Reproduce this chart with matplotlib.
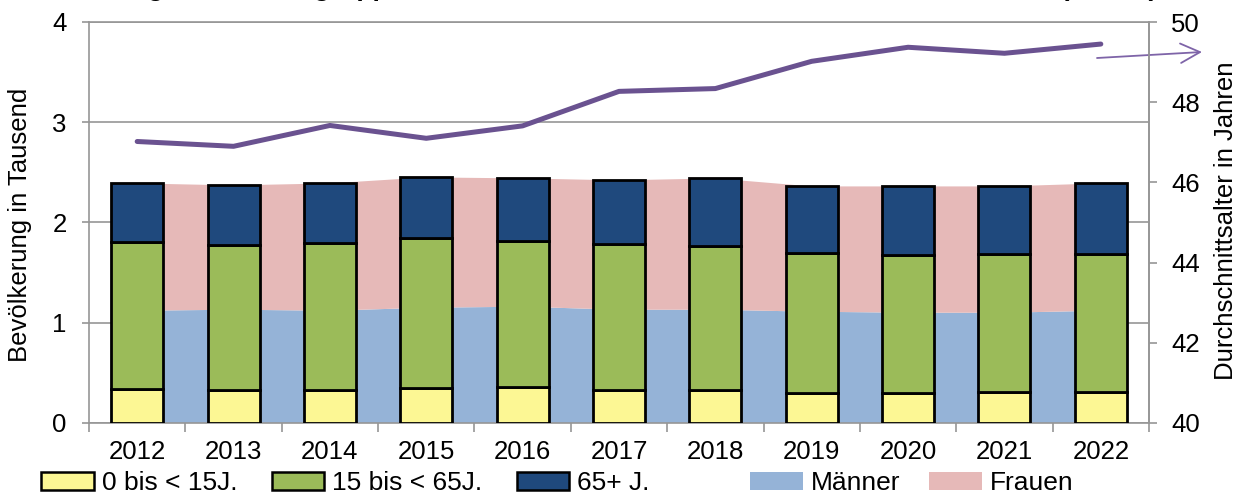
import numpy as np
import matplotlib
matplotlib.use("Agg")
import matplotlib.pyplot as plt
from matplotlib.patches import Patch
from matplotlib.ticker import MultipleLocator, FixedLocator

plt.rcParams['font.family'] = ['Liberation Sans', 'DejaVu Sans']

# Bevölkerung (Tausend) nach Altersgruppen und Geschlecht, Durchschnittsalter rechts
jahre = ['2012', '2013', '2014', '2015', '2016', '2017', '2018', '2019', '2020', '2021', '2022']
unter15 = [0.34, 0.33, 0.33, 0.35, 0.36, 0.33, 0.33, 0.30, 0.30, 0.31, 0.31]
von15bis65 = [1.47, 1.45, 1.47, 1.50, 1.46, 1.46, 1.44, 1.40, 1.38, 1.38, 1.38]
ab65 = [0.58, 0.59, 0.59, 0.60, 0.62, 0.63, 0.67, 0.66, 0.68, 0.67, 0.70]
maenner = [1.12, 1.13, 1.12, 1.15, 1.16, 1.13, 1.13, 1.11, 1.10, 1.10, 1.12]
frauen = [1.27, 1.24, 1.27, 1.30, 1.28, 1.29, 1.31, 1.25, 1.26, 1.26, 1.27]
durchschnittsalter = [47.02, 46.90, 47.42, 47.10, 47.41, 48.27, 48.34, 49.02, 49.37, 49.22, 49.45]

c_jung = '#FCF794'
c_mittel = '#9BBB59'
c_alt = '#1F497D'
c_maenner = '#95B3D7'
c_frauen = '#E6B9B8'
c_linie = '#6A5290'
c_grau = '#969696'
fs = 18.5

W, H = 1242, 499
fig = plt.figure(figsize=(W / 100, H / 100), dpi=100)
ax = fig.add_axes([89 / W, 1 - 423 / H, (1149 - 89) / W, (423 - 22) / H])

x = np.arange(len(jahre))

# Geschlecht als gestapelte Fläche hinter den Säulen
ax.stackplot(x, maenner, frauen, colors=[c_maenner, c_frauen], zorder=1)

# Altersgruppen als gestapelte Säulen
b1 = np.array(unter15)
b2 = b1 + np.array(von15bis65)
ax.bar(x, unter15, width=0.54, color=c_jung, edgecolor='black', lw=2, zorder=3)
ax.bar(x, von15bis65, width=0.54, bottom=b1, color=c_mittel, edgecolor='black', lw=2, zorder=3)
ax.bar(x, ab65, width=0.54, bottom=b2, color=c_alt, edgecolor='black', lw=2, zorder=3)

ax.set_xlim(-0.5, len(jahre) - 0.5)
ax.set_ylim(0, 4)
ax.yaxis.set_major_locator(MultipleLocator(1))
ax.set_xticks(x)
ax.set_xticklabels(jahre)
ax.xaxis.set_minor_locator(FixedLocator(np.arange(-0.5, len(jahre), 1.0)))
ax.tick_params(axis='x', which='major', length=0, pad=12, labelsize=fs)
ax.tick_params(axis='x', which='minor', length=6.5, width=1.2, color=c_grau)
ax.tick_params(axis='y', length=5, width=1.2, color=c_grau, pad=11, labelsize=fs)
ax.grid(axis='y', color=c_grau, lw=1.2)
ax.set_axisbelow(True)
for s in ax.spines.values():
    s.set_color(c_grau)
    s.set_linewidth(1.2)
    s.set_zorder(2.5)

# Durchschnittsalter auf der rechten Achse
ax2 = ax.twinx()
ax2.plot(x, durchschnittsalter, color=c_linie, lw=3.6, solid_capstyle='round', zorder=4)
ax2.set_ylim(40, 50)
ax2.yaxis.set_major_locator(MultipleLocator(2))
ax2.tick_params(axis='y', length=6, width=1.2, color=c_grau, pad=10, labelsize=fs)
for name, s in ax2.spines.items():
    s.set_color(c_grau)
    s.set_linewidth(1.2)
    if name != 'right':
        s.set_visible(False)

fig.text(20 / W, 1 - 225 / H, 'Bevölkerung in Tausend', rotation=90,
         ha='center', va='center', fontsize=fs)
fig.text(1226 / W, 1 - 221 / H, 'Durchschnittsalter in Jahren', rotation=90,
         ha='center', va='center', fontsize=fs)

# Überschrift liegt oben am Rand, nur die Unterlängen ragen ins Bild
fig.text(4 / W, 1.008, 'Bevölkerung nach Altersgruppen, Männer und Frauen sowie das '
         'Durchschnittsalter (rechts)', fontsize=19, fontweight='bold',
         ha='left', va='baseline')

# Pfeil zur rechten Achse
ax.annotate('', xy=(1202, H - 52), xytext=(1097, H - 58),
            xycoords='figure pixels', textcoords='figure pixels',
            arrowprops=dict(arrowstyle='->,head_length=1.0,head_width=0.5',
                            color='#7E64A8', lw=1.3, mutation_scale=14,
                            shrinkA=0, shrinkB=0))

leg_kw = dict(frameon=False, handlelength=2.0, handleheight=0.65, handletextpad=0.3,
              borderpad=0, borderaxespad=0, fontsize=19, loc='center left')
h_alter = [Patch(facecolor=c_jung, edgecolor='black', lw=1.8),
           Patch(facecolor=c_mittel, edgecolor='black', lw=1.8),
           Patch(facecolor=c_alt, edgecolor='black', lw=1.8)]
fig.legend(h_alter, ['0 bis < 15J.', '15 bis < 65J.', '65+ J.'], ncol=3,
           columnspacing=1.3, bbox_to_anchor=(41 / W, 1 - 483 / H), **leg_kw)
h_geschl = [Patch(facecolor=c_maenner, lw=0), Patch(facecolor=c_frauen, lw=0)]
fig.legend(h_geschl, ['Männer', 'Frauen'], ncol=2,
           columnspacing=1.1, bbox_to_anchor=(750 / W, 1 - 483 / H), **leg_kw)

fig.savefig('out.png', dpi=100)
